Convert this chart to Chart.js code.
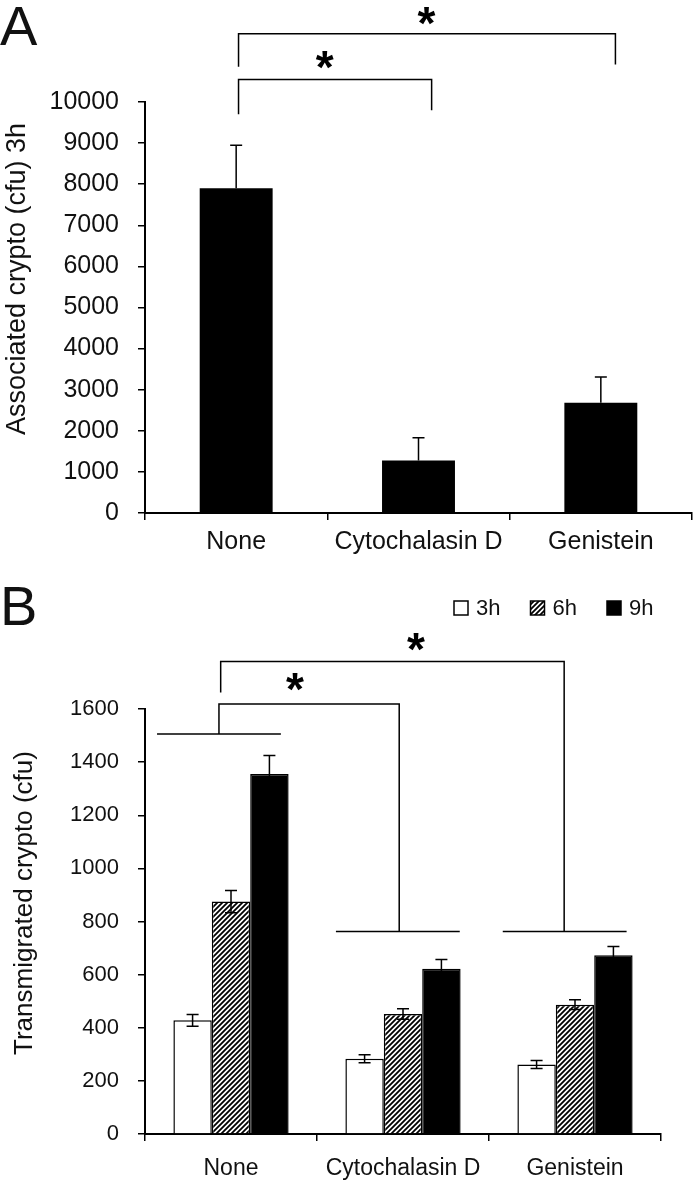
<!DOCTYPE html>
<html>
<head>
<meta charset="utf-8">
<script src="https://cdn.jsdelivr.net/npm/chart.js@4.4.0/dist/chart.umd.min.js"></script>
<style>
  html, body { margin: 0; padding: 0; background: #fff; }
  #wrap { position: relative; width: 693px; height: 1182px; }
  canvas { position: absolute; left: 0; }
</style>
</head>
<body>
<div id="wrap">
  <canvas id="chartA" width="693" height="570" style="top:0"></canvas>
  <canvas id="chartB" width="693" height="612" style="top:570px"></canvas>
</div>
<script>
// data
const categories = ['None', 'Cytochalasin D', 'Genistein'];

const associated = [7900, 1280, 2680];
const associatedErr = [1050, 550, 630];

const seriesLabels = ['3h', '6h', '9h'];
const trans3h = [428, 283, 262];
const trans6h = [875, 452, 487];
const trans9h = [1355, 622, 673];
const err3h = [22, 15, 15];
const err6h = [42, 20, 18];
const err9h = [70, 35, 33];

const yMaxA = 10000, yStepA = 1000;
const yMaxB = 1600, yStepB = 200;

// significance brackets, in (category index, value) units
const bracketLinesA = [
  [[0.013, 10860], [0.013, 11660], [2.08, 11660], [2.08, 10910]],
  [[0.013, 9700], [0.013, 10550], [1.072, 10550], [1.072, 9800]]
];
const starsA = [[1.043, 12100], [0.486, 11010]];

const bracketLinesB = [
  [[-0.43, 1506], [0.29, 1506]],
  [[0.61, 762], [1.33, 762]],
  [[1.58, 762], [2.30, 762]],
  [[-0.07, 1506], [-0.07, 1619], [0.978, 1619], [0.978, 762]],
  [[-0.06, 1662], [-0.06, 1779], [1.937, 1779], [1.937, 762]]
];
const starsB = [[0.372, 1703], [1.076, 1853]];

Chart.defaults.font.family = '"Liberation Sans", Arial, sans-serif';
Chart.defaults.color = '#111';

function hatchPattern(ctx) {
  const c = document.createElement('canvas');
  c.width = 5; c.height = 5;
  const g = c.getContext('2d');
  g.fillStyle = '#fff';
  g.fillRect(0, 0, 5, 5);
  g.strokeStyle = '#000';
  g.lineWidth = 1.8;
  g.beginPath();
  g.moveTo(-1, 6); g.lineTo(6, -1);
  g.moveTo(-1, 1); g.lineTo(1, -1);
  g.moveTo(4, 6); g.lineTo(6, 4);
  g.stroke();
  return ctx.createPattern(c, 'repeat');
}

// error bars from dataset.errors
function errorBars(both) {
  return {
    id: 'errorBars',
    afterDatasetsDraw(chart) {
      const ctx = chart.ctx, y = chart.scales.y;
      ctx.save();
      ctx.strokeStyle = '#000';
      ctx.lineWidth = 1.5;
      chart.data.datasets.forEach((ds, i) => {
        chart.getDatasetMeta(i).data.forEach((bar, j) => {
          const top = y.getPixelForValue(ds.data[j] + ds.errors[j]);
          const bottom = both ? y.getPixelForValue(ds.data[j] - ds.errors[j]) : bar.y;
          ctx.beginPath();
          ctx.moveTo(bar.x, top); ctx.lineTo(bar.x, bottom);
          ctx.moveTo(bar.x - 6, top); ctx.lineTo(bar.x + 6, top);
          if (both) { ctx.moveTo(bar.x - 6, bottom); ctx.lineTo(bar.x + 6, bottom); }
          ctx.stroke();
        });
      });
      ctx.restore();
    }
  };
}

function brackets(lines, stars) {
  return {
    id: 'brackets',
    afterDraw(chart) {
      const ctx = chart.ctx, x = chart.scales.x, y = chart.scales.y;
      ctx.save();
      ctx.strokeStyle = '#000';
      ctx.lineWidth = 1.5;
      lines.forEach(path => {
        ctx.beginPath();
        path.forEach((p, k) => {
          const px = x.getPixelForValue(p[0]), py = y.getPixelForValue(p[1]);
          if (k) ctx.lineTo(px, py); else ctx.moveTo(px, py);
        });
        ctx.stroke();
      });
      ctx.fillStyle = '#000';
      ctx.font = 'bold 46px "Liberation Sans", Arial';
      ctx.textAlign = 'center';
      ctx.textBaseline = 'alphabetic';
      const m = ctx.measureText('*');
      stars.forEach(s => {
        const cy = y.getPixelForValue(s[1]);
        ctx.fillText('*', x.getPixelForValue(s[0]), cy + (m.actualBoundingBoxAscent - m.actualBoundingBoxDescent) / 2);
      });
      ctx.restore();
    }
  };
}

// panel letter + rotated y title
function labels(letter, letterY, title, titleX, titleY, titleSize) {
  return {
    id: 'labels',
    afterDraw(chart) {
      const ctx = chart.ctx;
      ctx.save();
      ctx.fillStyle = '#111';
      ctx.font = '56px "Liberation Sans", Arial';
      ctx.textAlign = 'left';
      ctx.textBaseline = 'alphabetic';
      ctx.fillText(letter, 0, letterY);
      ctx.translate(titleX, titleY);
      ctx.rotate(-Math.PI / 2);
      ctx.font = titleSize + 'px "Liberation Sans", Arial';
      ctx.textAlign = 'center';
      ctx.textBaseline = 'middle';
      ctx.fillText(title, 0, 0);
      ctx.restore();
    }
  };
}

// legend boxes for panel B
const legendB = {
  id: 'legendB',
  afterDraw(chart) {
    const ctx = chart.ctx;
    ctx.save();
    ctx.font = '22px "Liberation Sans", Arial';
    ctx.textBaseline = 'middle';
    ctx.textAlign = 'left';
    chart.data.datasets.forEach((ds, i) => {
      const bx = 454 + i * 76.5, by = 31;
      ctx.fillStyle = ds.backgroundColor;
      ctx.fillRect(bx, by, 14, 14);
      ctx.strokeStyle = '#000';
      ctx.lineWidth = 1.5;
      ctx.strokeRect(bx, by, 14, 14);
      ctx.fillStyle = '#111';
      ctx.fillText(ds.label, bx + 22, by + 7.5);
    });
    ctx.restore();
  }
};

function axes(max, step, tickFont, yPad, xFont, xPad, xHeight) {
  return {
    x: {
      grid: { drawOnChartArea: false, drawTicks: true, tickLength: 7, color: '#000', lineWidth: 1.5, offset: true },
      border: { color: '#000', width: 2 },
      ticks: { font: { size: xFont }, padding: xPad, color: '#111', maxRotation: 0 },
      afterFit(s) { s.height = xHeight; }
    },
    y: {
      min: 0, max: max,
      grid: { drawOnChartArea: false, drawTicks: true, tickLength: 7, color: '#000', lineWidth: 1.5 },
      border: { color: '#000', width: 2 },
      ticks: { stepSize: step, font: { size: tickFont }, padding: yPad, color: '#111',
               callback: v => String(v) },
      afterFit(s) { s.width = 145; }
    }
  };
}

const ctxA = document.getElementById('chartA').getContext('2d');
new Chart(ctxA, {
  type: 'bar',
  data: {
    labels: categories,
    datasets: [{
      label: 'Associated',
      data: associated,
      errors: associatedErr,
      backgroundColor: '#000',
      borderWidth: 0,
      barPercentage: 0.4,
      categoryPercentage: 1
    }]
  },
  options: {
    responsive: false,
    animation: false,
    layout: { padding: { top: 102, right: 1, left: 0, bottom: 0 } },
    plugins: { legend: { display: false }, tooltip: { enabled: false } },
    scales: axes(yMaxA, yStepA, 25, 19, 25, 7, 57)
  },
  plugins: [errorBars(false), brackets(bracketLinesA, starsA),
            labels('A', 45, 'Associated crypto (cfu) 3h', 18, 279, 27)]
});

const ctxB = document.getElementById('chartB').getContext('2d');
const seriesB = [trans3h, trans6h, trans9h];
const errB = [err3h, err6h, err9h];
const fillsB = ['#fff', hatchPattern(ctxB), '#000'];
new Chart(ctxB, {
  type: 'bar',
  data: {
    labels: categories,
    datasets: seriesLabels.map((lab, i) => ({
      label: lab,
      data: seriesB[i],
      errors: errB[i],
      backgroundColor: fillsB[i],
      borderColor: '#000',
      borderWidth: 1.5,
      barPercentage: 1,
      categoryPercentage: 0.67
    }))
  },
  options: {
    responsive: false,
    animation: false,
    layout: { padding: { top: 139, right: 32, left: 0, bottom: 0 } },
    plugins: { legend: { display: false }, tooltip: { enabled: false } },
    scales: axes(yMaxB, yStepB, 22, 19, 23, 14, 48)
  },
  plugins: [errorBars(true), brackets(bracketLinesB, starsB), legendB,
            labels('B', 55, 'Transmigrated crypto (cfu)', 25, 333, 26)]
});
</script>
</body>
</html>
